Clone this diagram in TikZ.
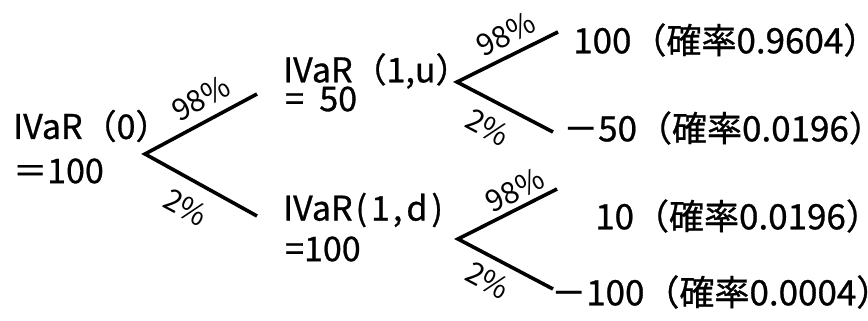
\documentclass[tikz,border=0pt]{standalone}
\usepackage{fontspec}
\setmainfont{Noto Sans CJK JP}[FakeBold=0.8]
\newfontfamily\lblfont{Noto Sans CJK JP}
\begin{document}
\begin{tikzpicture}[x=1pt,y=-1pt,
  txt/.style={anchor=west,inner sep=0pt,font=\fontsize{34}{36}\selectfont},
  leaf/.style={anchor=west,inner sep=0pt,font=\fontsize{35}{38}\selectfont},
  lbl/.style={inner sep=0pt,font=\lblfont\fontsize{30}{32}\selectfont},
  branch/.style={line width=3.6pt}]
\useasboundingbox (0,0) rectangle (868,321);
% texts
\node[txt] (r0a) at (13,126) {IVaR（0）};
\node[txt] (r0b) at (13,171) {＝100};
\node[txt] (ua) at (283,71) {IVaR（1,u）};
\node[txt] (ub) at (285,99) {=\hspace{0.45em}50};
\node[txt] (da) at (283,210) {IVaR\kern3pt(\kern4pt1\kern3pt,\kern4pt d\kern4pt)};
\node[txt] (db) at (285,249) {=100};
\node[leaf] (l1) at (573,40) {100（確率0.9604）\kern-0.5em};
\node[leaf] (l2) at (563,128) {－50（確率0.0196）\kern-0.5em};
\node[leaf] (l3) at (595,216) {10（確率0.0196）\kern-0.5em};
\node[leaf] (l4) at (551,292) {－100（確率0.0004）\kern-0.5em};
% fork coordinates
\coordinate (v0) at (145,154);
\coordinate (e0u) at (257,94);
\coordinate (e0d) at (257,216);
\coordinate (v1) at (457,82);
\coordinate (e1u) at (558,32);
\coordinate (e1d) at (553,132);
\coordinate (v2) at (458,239);
\coordinate (e2u) at (557,189);
\coordinate (e2d) at (553,289);
\draw[branch] (e0u) -- (v0) -- (e0d);
\draw[branch] (e1u) -- (v1) -- (e1d);
\draw[branch] (e2u) -- (v2) -- (e2d);
% labels
\node[lbl,rotate=28] (p0u) at (201,98) {98\%};
\node[lbl,rotate=-28] (p0d) at (186,207) {2\%};
\node[lbl,rotate=27] (p1u) at (506,34) {98\%};
\node[lbl,rotate=-28] (p1d) at (488,127) {2\%};
\node[lbl,rotate=27] (p2u) at (515,190) {98\%};
\node[lbl,rotate=-28] (p2d) at (488,280) {2\%};
\end{tikzpicture}
\end{document}
